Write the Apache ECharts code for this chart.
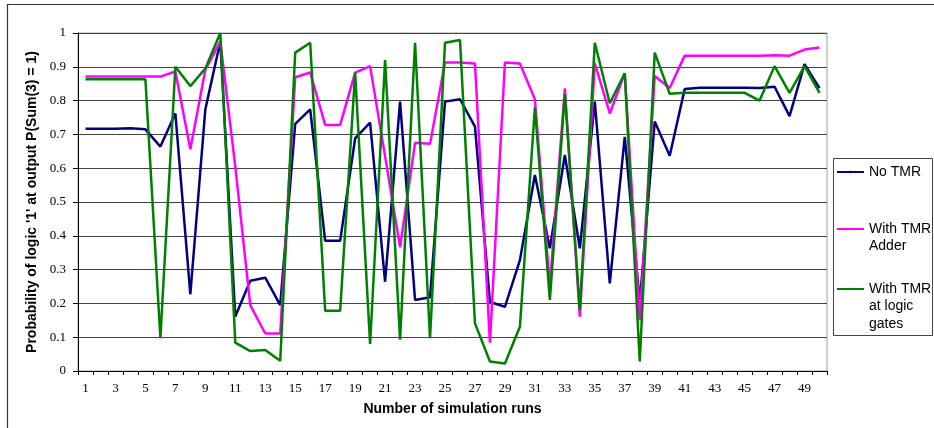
<!DOCTYPE html>
<html>
<head>
<meta charset="utf-8">
<script src="https://cdn.jsdelivr.net/npm/echarts@6/dist/echarts.min.js"></script>
<style>
  html, body { margin: 0; padding: 0; background: #fff; }
  #chart { width: 934px; height: 428px; }
</style>
</head>
<body>
<div id="chart"></div>
<script>
// Simulation run numbers 1..50
const runs = [
  1, 2, 3, 4, 5, 6, 7, 8, 9, 10, 11, 12, 13, 14, 15, 16, 17, 18, 19, 20,
  21, 22, 23, 24, 25, 26, 27, 28, 29, 30, 31, 32, 33, 34, 35, 36, 37, 38, 39, 40,
  41, 42, 43, 44, 45, 46, 47, 48, 49, 50
];

// Probability of logic '1' at output P(Sum(3) = 1) for each run
const noTmr = [
  0.717, 0.717, 0.717, 0.718, 0.715, 0.664, 0.762, 0.227, 0.774, 0.975,
  0.161, 0.267, 0.276, 0.195, 0.731, 0.774, 0.385, 0.385, 0.688, 0.735,
  0.264, 0.797, 0.210, 0.218, 0.797, 0.804, 0.723, 0.204, 0.190, 0.328,
  0.580, 0.363, 0.639, 0.363, 0.797, 0.259, 0.693, 0.202, 0.738, 0.637,
  0.834, 0.838, 0.838, 0.838, 0.838, 0.837, 0.841, 0.754, 0.908, 0.837
];

const tmrAdder = [
  0.871, 0.871, 0.871, 0.871, 0.871, 0.871, 0.886, 0.656, 0.891, 0.975,
  0.605, 0.195, 0.111, 0.111, 0.869, 0.883, 0.728, 0.728, 0.883, 0.902,
  0.635, 0.366, 0.675, 0.672, 0.913, 0.913, 0.910, 0.084, 0.913, 0.910,
  0.804, 0.250, 0.836, 0.161, 0.910, 0.762, 0.881, 0.150, 0.873, 0.837,
  0.933, 0.933, 0.933, 0.933, 0.933, 0.933, 0.934, 0.933, 0.951, 0.957
];

const tmrGates = [
  0.863, 0.863, 0.863, 0.863, 0.863, 0.097, 0.900, 0.843, 0.895, 1.000,
  0.084, 0.059, 0.062, 0.030, 0.942, 0.971, 0.178, 0.178, 0.883, 0.080,
  0.920, 0.093, 0.971, 0.097, 0.971, 0.979, 0.141, 0.028, 0.022, 0.131,
  0.780, 0.210, 0.820, 0.180, 0.971, 0.792, 0.881, 0.028, 0.942, 0.820,
  0.823, 0.823, 0.823, 0.823, 0.823, 0.800, 0.902, 0.823, 0.902, 0.823
];

const seriesNames = ['No TMR', 'With TMR Adder', 'With TMR at logic gates'];
// Wrapped legend text; leading blank lines keep the sample line beside the first line
const legendLabels = ['No TMR', '\nWith TMR\nAdder', '\n\nWith TMR\nat logic\ngates'];
const seriesColors = ['#000080', '#ff00ff', '#008000'];

const chart = echarts.init(document.getElementById('chart'), null, { renderer: 'canvas' });

const legendTops = [163.25, 202.75, 245.25];
const legendText = {
  fontFamily: 'Liberation Sans', fontSize: 14, color: '#000', lineHeight: 17.5
};

const option = {
  animation: false,
  backgroundColor: '#fff',
  grid: {
    left: 78, right: 107, top: 33, bottom: 57,
    show: true, borderColor: '#a0a0a0', borderWidth: 1, backgroundColor: 'transparent'
  },
  legend: seriesNames.map((n, i) => ({
    data: [n],
    left: 836,
    top: legendTops[i],
    padding: 0,
    itemWidth: 27,
    itemHeight: 3,
    selectedMode: false,
    formatter: () => legendLabels[i],
    textStyle: legendText
  })),
  graphic: [
    {
      type: 'rect', silent: true, z: 100,
      shape: { x: 7.5, y: 4.5, width: 1000, height: 1000 },
      style: { fill: 'none', stroke: '#333', lineWidth: 1.2 }
    },
    {
      type: 'rect', silent: true, z: 100,
      shape: { x: 833.5, y: 158.5, width: 99, height: 177 },
      style: { fill: 'none', stroke: '#444', lineWidth: 1 }
    }
  ],
  xAxis: {
    type: 'category',
    data: runs,
    boundaryGap: true,
    name: 'Number of simulation runs',
    nameLocation: 'middle',
    nameGap: 31,
    nameTextStyle: { fontFamily: 'Liberation Sans', fontWeight: 'bold', fontSize: 14, color: '#000' },
    axisLine: { lineStyle: { color: '#000', width: 1 } },
    axisTick: { show: true, interval: 0, length: 4, lineStyle: { color: '#000' } },
    axisLabel: {
      interval: 1, margin: 11,
      fontFamily: 'Liberation Serif', fontSize: 13, color: '#000'
    },
    splitLine: { show: false }
  },
  yAxis: {
    type: 'value',
    min: 0, max: 1, interval: 0.1,
    name: "Probability of logic '1' at output P(Sum(3) = 1)",
    nameLocation: 'middle',
    nameGap: 35,
    nameRotate: 90,
    nameTextStyle: { fontFamily: 'Liberation Sans', fontWeight: 'bold', fontSize: 14, color: '#000' },
    axisLine: { show: true, lineStyle: { color: '#000', width: 1 } },
    axisTick: { show: true, length: 5, lineStyle: { color: '#000' } },
    axisLabel: {
      margin: 12,
      fontFamily: 'Liberation Serif', fontSize: 13, color: '#000'
    },
    splitLine: { show: true, lineStyle: { color: '#444', width: 1 } }
  },
  series: [noTmr, tmrAdder, tmrGates].map((vals, i) => ({
    name: seriesNames[i],
    type: 'line',
    data: vals,
    symbol: 'none',
    showSymbol: false,
    color: seriesColors[i],
    lineStyle: { color: seriesColors[i], width: 2.5 },
    z: 2 + i
  }))
};

chart.setOption(option);
</script>
</body>
</html>
